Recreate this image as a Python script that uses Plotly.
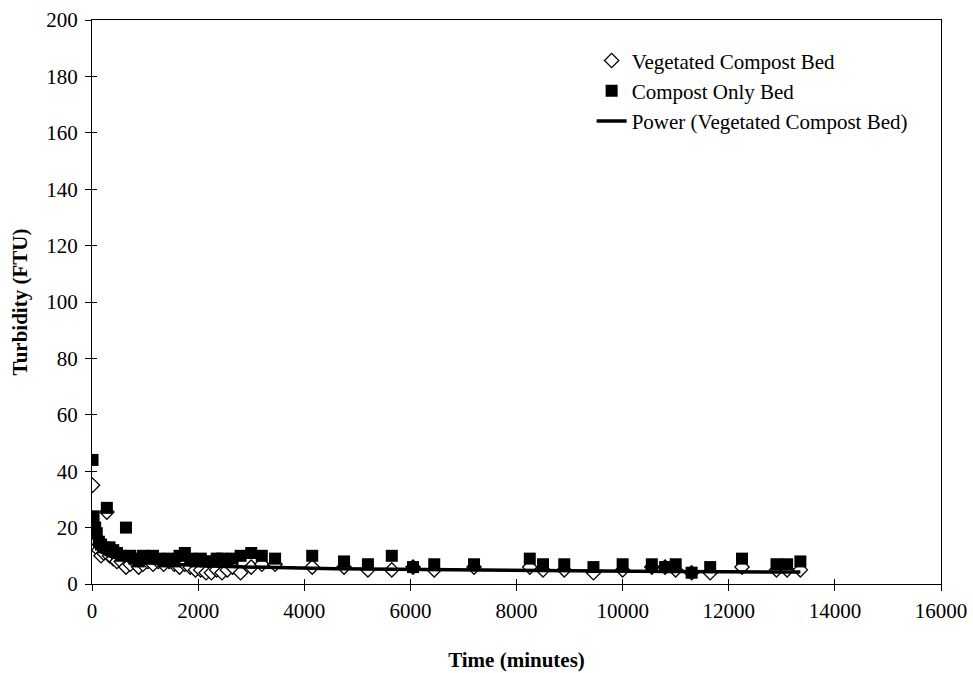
import numpy as np
import plotly.graph_objects as go

# Sampling times (minutes) shared by both beds
time_min = [10, 30, 60, 90, 130, 170, 220, 280, 330, 400, 470, 550, 640, 720,
            800, 880, 960, 1050, 1150, 1250, 1350, 1450, 1550, 1650, 1750,
            1850, 1950, 2050, 2150, 2250, 2350, 2450, 2550, 2650, 2800, 3000,
            3200, 3450, 4150, 4750, 5200, 5650, 6050, 6450, 7200, 8250, 8500,
            8900, 9450, 10000, 10550, 10800, 11000, 11300, 11650, 12250,
            12900, 13100, 13350]

# Turbidity (FTU)
vegetated = [35, 20, 15, 13, 12, 10, 11, 25.5, 10, 9, 8, 8, 6, 7,
             8, 6, 7, 8, 7, 8, 7, 8, 7, 6, 7,
             6, 5, 5, 4, 4, 5, 4, 5, 6, 4, 6,
             7, 7, 6, 6, 5, 5, 6, 5, 6, 6, 5,
             5, 4, 5, 6, 6, 5, 4, 4, 6,
             5, 5, 5]
compost_only = [44, 24, 20, 18, 15, 14, 13, 27, 13, 12, 11, 10, 20, 10,
                9, 8, 10, 9, 10, 9, 8, 9, 8, 10, 11,
                9, 8, 9, 8, 8, 9, 9, 8, 9, 10, 11,
                10, 9, 10, 8, 7, 10, 6, 7, 7, 9, 7,
                7, 6, 7, 7, 6, 7, 4, 6, 9,
                7, 7, 8]

x_ticks = [0, 2000, 4000, 6000, 8000, 10000, 12000, 14000, 16000]
y_ticks = [0, 20, 40, 60, 80, 100, 120, 140, 160, 180, 200]

# Power trendline y = a * t^b fitted in log-log space
t = np.array(time_min, dtype=float)
v = np.array(vegetated, dtype=float)
b, log_a = np.polyfit(np.log(t), np.log(v), 1)
t_fit = np.linspace(t.min(), t.max(), 400)
v_fit = np.exp(log_a) * t_fit ** b

FONT = "Liberation Serif"
FS = 21

fig = go.Figure()
fig.add_trace(go.Scatter(
    x=time_min, y=vegetated, mode="markers", name="Vegetated Compost Bed",
    marker=dict(symbol="diamond", size=11, color="white",
                line=dict(color="black", width=1.3)),
))
fig.add_trace(go.Scatter(
    x=time_min, y=compost_only, mode="markers", name="Compost Only Bed",
    marker=dict(symbol="square", size=12, color="black",
                line=dict(color="black", width=0)),
))
fig.add_trace(go.Scatter(
    x=t_fit, y=v_fit, mode="lines", name="Power (Vegetated Compost Bed)",
    line=dict(color="black", width=3.5),
))

axis_common = dict(
    showgrid=False, zeroline=False, showline=True, linecolor="black",
    linewidth=1, mirror=True, ticks="outside", ticklen=6, tickcolor="black",
    tickwidth=1, tickfont=dict(family=FONT, size=FS, color="black"),
    automargin=False,
)

fig.update_layout(
    width=973, height=673,
    margin=dict(l=92, r=32, t=20, b=89),
    paper_bgcolor="white", plot_bgcolor="white",
    font=dict(family=FONT, size=FS, color="black"),
    xaxis=dict(
        range=[0, 16000], tickvals=x_ticks,
        ticktext=[str(v) for v in x_ticks],
        title=dict(text="<b>Time (minutes)</b>", standoff=30,
                   font=dict(family=FONT, size=FS)),
        ticklabelstandoff=2,
        **axis_common,
    ),
    yaxis=dict(
        range=[0, 200], tickvals=y_ticks,
        ticktext=[str(v) for v in y_ticks],
        title=dict(text="<b>Turbidity (FTU)</b>", standoff=12,
                   font=dict(family=FONT, size=FS)),
        ticklabelstandoff=3,
        **axis_common,
    ),
    # inner halves of the tick marks so they cross the axis lines
    xaxis2=dict(overlaying="x", matches="x", anchor="y", side="bottom",
                range=[0, 16000], tickvals=x_ticks, showticklabels=False,
                ticks="inside", ticklen=5, tickcolor="black", showgrid=False,
                zeroline=False, showline=False, automargin=False),
    yaxis2=dict(overlaying="y", matches="y", anchor="x", side="left",
                range=[0, 200], tickvals=y_ticks, showticklabels=False,
                ticks="inside", ticklen=5, tickcolor="black", showgrid=False,
                zeroline=False, showline=False, automargin=False),
    legend=dict(x=0.5885, y=0.964, xanchor="left", yanchor="top",
                bgcolor="rgba(0,0,0,0)", font=dict(family=FONT, size=FS),
                tracegroupgap=0, itemsizing="trace"),
    showlegend=True,
)

# invisible trace that activates the overlay axes
fig.add_trace(go.Scatter(x=[0], y=[0], xaxis="x2", yaxis="y2", mode="markers",
                         marker=dict(opacity=0), showlegend=False,
                         hoverinfo="skip"))

fig.write_html("out.html")
